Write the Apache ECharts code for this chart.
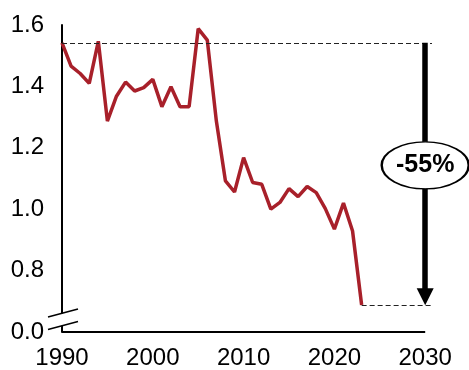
<!DOCTYPE html>
<html><head><meta charset="utf-8">
<script src="https://cdn.jsdelivr.net/npm/echarts@6/dist/echarts.min.js"></script>
<style>html,body{margin:0;padding:0;background:#fff}#c{width:469px;height:370px}</style>
</head><body><div id="c"></div>
<script>
const years = [1990,1991,1992,1993,1994,1995,1996,1997,1998,1999,2000,2001,2002,2003,2004,2005,2006,2007,2008,2009,2010,2011,2012,2013,2014,2015,2016,2017,2018,2019,2020,2021,2022,2023];
const values = [1.542,1.466,1.442,1.41,1.547,1.287,1.368,1.414,1.385,1.396,1.423,1.334,1.399,1.334,1.334,1.588,1.551,1.287,1.092,1.056,1.168,1.087,1.081,1.0,1.022,1.067,1.041,1.074,1.054,1.002,0.935,1.02,0.929,0.688];
const xTicks = [1990,2000,2010,2020,2030];
const yTicks = [0.6,0.8,1.0,1.2,1.4,1.6];
const yTickLabels = ['0.0','0.8','1.0','1.2','1.4','1.6'];
const refStartYear = 1990, refValue = 1.542;
const endYear = 2023, endValue = 0.688;
const arrowYear = 2030;
const dashEndYear = 2030.75;
const changeLabel = '-55%';
const labelPos = [2030, 1.143];

const font = 'Liberation Sans, Arial, sans-serif';
const chart = echarts.init(document.getElementById('c'));
const dash = {type: [5,3], color: '#222', width: 1.2};
const option = {
  animation: false,
  grid: {left: 62, right: 37, top: 25, bottom: 37},
  xAxis: {
    type: 'value', min: xTicks[0], max: dashEndYear, interval: 10,
    axisLine: {show: false},
    axisTick: {show: false}, splitLine: {show: false},
    axisLabel: {color: '#000', fontSize: 24, fontFamily: font, margin: 14, showMaxLabel: false,
      formatter: v => xTicks.includes(v) ? String(v) : ''}
  },
  yAxis: {
    type: 'value', min: yTicks[0], max: yTicks[yTicks.length-1], interval: 0.2,
    axisLine: {show: true, lineStyle: {color: '#000', width: 2}},
    axisTick: {show: false}, splitLine: {show: false},
    axisLabel: {color: '#000', fontSize: 24, fontFamily: font, margin: 18, padding: [4,0,0,0],
      formatter: v => { const i = yTicks.findIndex(t => Math.abs(t - v) < 1e-6); return i >= 0 ? yTickLabels[i] : ''; }}
  },
  series: [
    {
      type: 'line', data: years.map((y,i) => [y, values[i]]), symbol: 'none', clip: false,
      lineStyle: {color: '#a8202a', width: 3.5}, z: 3,
      markLine: {
        silent: true, symbol: 'none', animation: false,
        label: {show: false},
        data: [
          [{coord: [xTicks[0], yTicks[0]], lineStyle: {type: 'solid', color: '#000', width: 2}}, {coord: [xTicks[xTicks.length-1], yTicks[0]]}],
          [{coord: [refStartYear, refValue], lineStyle: dash}, {coord: [dashEndYear, refValue]}],
          [{coord: [endYear, endValue], lineStyle: dash}, {coord: [dashEndYear, endValue]}],
          [{coord: [arrowYear, refValue], symbol: 'none', lineStyle: {type: 'solid', color: '#000', width: 5.5}},
           {coord: [arrowYear, endValue + 0.027], symbol: 'triangle', symbolSize: [17,17], symbolOffset: [0, 0]}]
        ]
      }
    },
    {
      type: 'scatter', data: [labelPos], symbol: 'circle', symbolSize: [87, 47], clip: false, z: 10,
      itemStyle: {color: '#fff', borderColor: '#000', borderWidth: 1.8, opacity: 1},
      label: {show: true, position: 'inside', formatter: changeLabel, color: '#000', fontSize: 25, fontWeight: 'bold', fontFamily: font}
    }
  ]
};
chart.setOption(option);
const p = chart.convertToPixel({gridIndex: 0}, [xTicks[0], yTicks[0]]);
chart.setOption({graphic: [
  {type: 'rect', shape: {x: p[0]-3, y: p[1]-18.6, width: 6, height: 12.4}, style: {fill: '#fff'}, z: 100},
  {type: 'line', shape: {x1: p[0]-14, y1: p[1]-15, x2: p[0]+16, y2: p[1]-23}, style: {stroke: '#000', lineWidth: 1.5}, z: 101},
  {type: 'line', shape: {x1: p[0]-14, y1: p[1]-2.5, x2: p[0]+16, y2: p[1]-10.5}, style: {stroke: '#000', lineWidth: 1.5}, z: 101}
]});
</script>
</body></html>
